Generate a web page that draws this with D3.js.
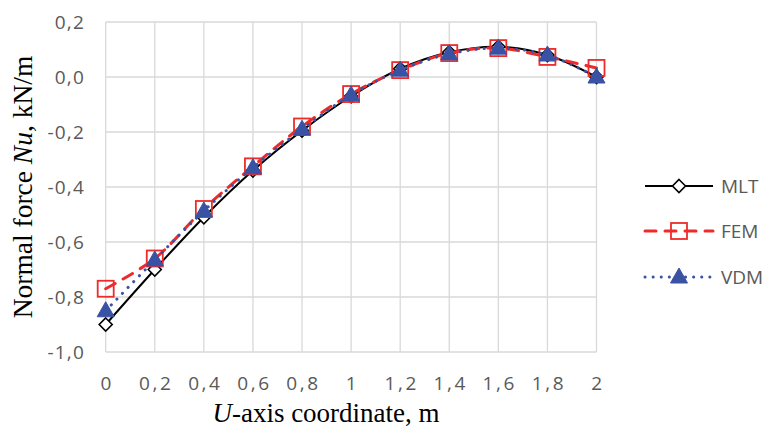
<!DOCTYPE html>
<html><head><meta charset="utf-8">
<script src="https://cdn.jsdelivr.net/npm/d3@7"></script>
<style>body{margin:0;background:#fff}svg{display:block}</style>
</head><body>
<svg id="c" width="769" height="433"></svg>
<script>
const xValues = [0, 0.2, 0.4, 0.6, 0.8, 1.0, 1.2, 1.4, 1.6, 1.8, 2.0];
const mlt = [-0.90, -0.70, -0.51, -0.34, -0.195, -0.07, 0.03, 0.09, 0.11, 0.08, 0.0];
const fem = [-0.77, -0.66, -0.48, -0.325, -0.18, -0.062, 0.025, 0.087, 0.105, 0.073, 0.033];
const vdm = [-0.85, -0.665, -0.487, -0.33, -0.19, -0.065, 0.025, 0.084, 0.105, 0.08, 0.0];
const xTickLabels = ["0","0,2","0,4","0,6","0,8","1","1,2","1,4","1,6","1,8","2"];
const yTicks = [0.2, 0.0, -0.2, -0.4, -0.6, -0.8, -1.0];
const yTickLabels = ["0,2","0,0","-0,2","-0,4","-0,6","-0,8","-1,0"];
const seriesNames = ["MLT","FEM","VDM"];

const svg = d3.select("#c");
const x = d3.scaleLinear().domain([0, 2]).range([105.7, 596.5]);
const y = d3.scaleLinear().domain([-1.0, 0.2]).range([352, 22]);
const gridColor = "#d9d9d9";
const labelColor = "#595959";

// grid
const g = svg.append("g");
g.selectAll("line.v").data(xValues).join("line")
  .attr("x1", d => x(d)).attr("x2", d => x(d)).attr("y1", y(0.2)).attr("y2", y(-1.0))
  .attr("stroke", gridColor).attr("stroke-width", 1.3);
g.selectAll("line.h").data(yTicks).join("line").attr("class","h")
  .attr("x1", x(0)).attr("x2", x(2)).attr("y1", d => y(d)).attr("y2", d => y(d))
  .attr("stroke", gridColor).attr("stroke-width", 1.3);

// y tick labels
svg.append("g").selectAll("text").data(yTicks).join("text")
  .attr("x", 85).attr("y", d => y(d)).attr("dy", "0.36em")
  .attr("text-anchor", "end").attr("fill", labelColor)
  .attr("font-family", "Open Sans, sans-serif").attr("font-size", 19)
  .attr("letter-spacing", 1.2)
  .text((d, i) => yTickLabels[i]);

// x tick labels
svg.append("g").selectAll("text").data(xValues).join("text")
  .attr("x", d => x(d) + 1.5).attr("y", 383).attr("dy", "0.36em")
  .attr("text-anchor", "middle").attr("fill", labelColor)
  .attr("font-family", "Open Sans, sans-serif").attr("font-size", 19)
  .attr("letter-spacing", 2.6)
  .text((d, i) => xTickLabels[i]);

// axis titles
const xt = svg.append("text").attr("x", 326).attr("y", 422)
  .attr("text-anchor", "middle").attr("font-family", "Liberation Serif, Times New Roman, serif")
  .attr("font-size", 27).attr("fill", "#000");
xt.append("tspan").attr("font-style", "italic").text("U");
xt.append("tspan").text("-axis coordinate, m");

const yt = svg.append("text").attr("transform", "translate(32,187) rotate(-90)")
  .attr("text-anchor", "middle").attr("font-family", "Liberation Serif, Times New Roman, serif")
  .attr("font-size", 27.5).attr("fill", "#000");
yt.append("tspan").text("Normal force ");
yt.append("tspan").attr("font-style", "italic").text("Nu");
yt.append("tspan").text(", kN/m");

const curve = d3.curveCatmullRom.alpha(0.5);
const line = d3.line().x(d => x(d[0])).y(d => y(d[1])).curve(curve);
const zip = arr => xValues.map((v, i) => [v, arr[i]]);

const styles = {
  MLT: {color: "#000000", width: 2, dash: null, cap: "butt"},
  FEM: {color: "#ee2b2b", width: 3, dash: "11,9", cap: "round"},
  VDM: {color: "#3a52a3", width: 3, dash: "0.1,8", cap: "round"}
};

function marker(sel, name, cx, cy) {
  const s = styles[name];
  if (name === "MLT") {
    sel.append("path").attr("d", `M${cx},${cy-6.5}L${cx+6.5},${cy}L${cx},${cy+6.5}L${cx-6.5},${cy}Z`)
      .attr("fill", "#fff").attr("stroke", "#000").attr("stroke-width", 1.6);
  } else if (name === "FEM") {
    sel.append("rect").attr("x", cx-8).attr("y", cy-8).attr("width", 16).attr("height", 16)
      .attr("fill", "none").attr("stroke", s.color).attr("stroke-width", 1.8);
  } else {
    sel.append("path").attr("d", `M${cx},${cy-9}L${cx+8.5},${cy+6}L${cx-8.5},${cy+6}Z`)
      .attr("fill", s.color).attr("stroke", s.color).attr("stroke-width", 1);
  }
}

const data = {MLT: mlt, FEM: fem, VDM: vdm};
seriesNames.forEach(name => {
  const s = styles[name];
  const gg = svg.append("g");
  gg.append("path").datum(zip(data[name])).attr("d", line)
    .attr("fill", "none").attr("stroke", s.color).attr("stroke-width", s.width)
    .attr("stroke-dasharray", s.dash).attr("stroke-linecap", s.cap);
  zip(data[name]).forEach(d => marker(gg, name, x(d[0]), y(d[1])));
});

// legend
const legY = [186, 231, 277];
seriesNames.forEach((name, i) => {
  const s = styles[name];
  const lg = svg.append("g");
  lg.append("line").attr("x1", 645).attr("x2", 713).attr("y1", legY[i]).attr("y2", legY[i])
    .attr("stroke", s.color).attr("stroke-width", s.width)
    .attr("stroke-dasharray", s.dash).attr("stroke-linecap", s.cap);
  marker(lg, name, 679, legY[i]);
  lg.append("text").attr("x", 721).attr("y", legY[i]).attr("dy", "0.36em")
    .attr("fill", labelColor).attr("font-family", "Open Sans, sans-serif").attr("font-size", 19)
    .text(name);
});
</script>
</body></html>
